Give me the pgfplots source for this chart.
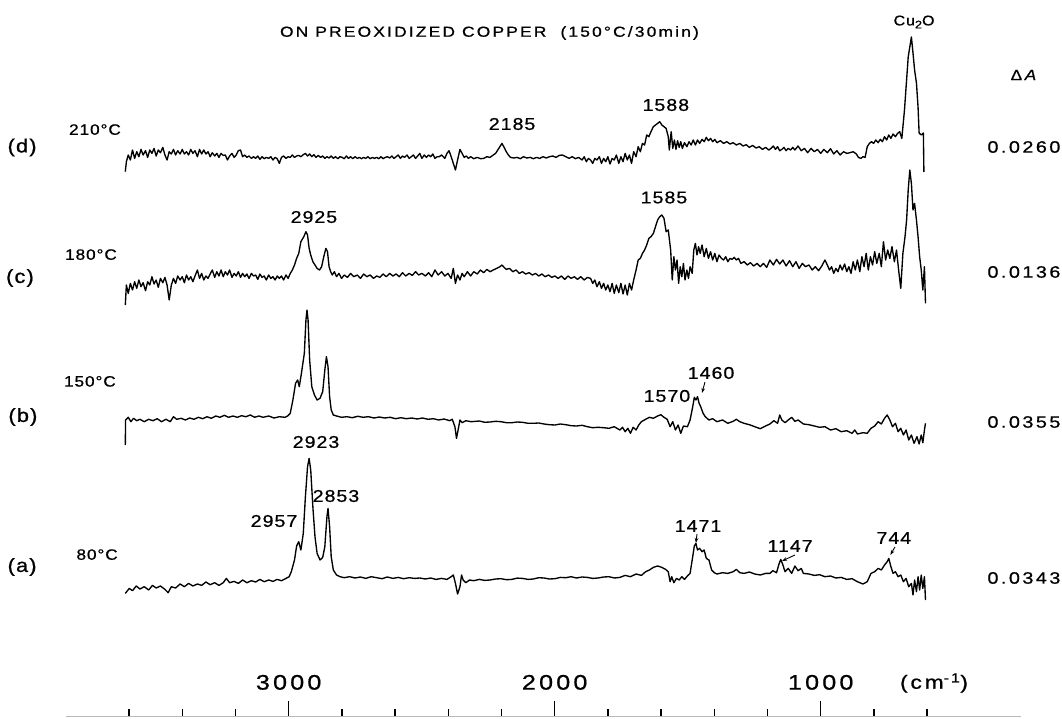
\documentclass[border=0pt]{standalone}
\usepackage{fontspec}
\setmainfont{Liberation Sans}[FakeStretch=1.15, LetterSpace=6, FakeBold=0.8]
\newfontfamily\wide{Liberation Sans}[FakeStretch=1.2, LetterSpace=15, FakeBold=0.8]
\usepackage{pgfplots}
\pgfplotsset{compat=1.18}
\usepackage{pgfplotstable}
\usetikzlibrary{arrows.meta}
\tikzset{
  trace/.style={black, line width=1.35pt, line join=round},
  pk/.style={font=\fontsize{17}{17}\selectfont},
  tl/.style={font=\fontsize{15}{15}\selectfont},
  lt/.style={font=\fontsize{19}{19}\selectfont},
  rv/.style={font=\wide\fontsize{16.5}{16.5}\selectfont},
  ar/.style={-{Stealth[length=5pt,width=3.5pt]}, line width=0.9pt},
}

% trace (a) 80 C : wavenumber / deflection
\pgfplotstableread{
nu dA
3614 -6.7
3599 -1.7
3587 -4
3573 0.7
3559 -2.3
3543 0
3526 -3.3
3512 1.3
3498 -1.3
3482 0.7
3465 -2.7
3453 -6
3441 0
3425 -1.3
3408 2.7
3392 0
3376 3.3
3360 0.7
3343 2.7
3327 1.3
3311 4.7
3295 2
3278 4
3262 1.3
3246 4
3234 8.3
3222 4
3205 5.3
3189 3.3
3173 6.7
3157 4
3140 6
3124 4.7
3108 7.3
3092 5
3075 6.7
3059 5.3
3043 7.3
3027 6
3010 8.3
2998 10
2990 15
2978 26.7
2970 40.7
2962 45
2954 36.7
2945 53.3
2937 90
2929 120
2923 128.3
2917 116.7
2909 80
2901 50
2893 33.3
2882 26.7
2872 29.3
2864 40
2856 70
2852 78.3
2846 60
2840 30
2832 16.7
2820 11.7
2807 10
2791 9
2771 10
2750 8.7
2730 9.7
2710 8.3
2690 10
2669 9
2649 8
2629 9.7
2608 8.3
2588 9.3
2568 8
2547 9
2527 8.3
2507 8.7
2486 7.7
2466 8.7
2446 7.3
2425 8.3
2405 7.3
2389 10
2381 11.7
2373 3.3
2365 -7.3
2356 0
2350 11.7
2344 6.7
2334 4
2320 6.7
2304 6
2283 7.3
2263 6.3
2243 6.7
2222 7.7
2202 8
2181 7
2161 7.3
2141 8.6
2121 8.3
2100 7.3
2080 7.7
2060 9
2040 8.7
2020 7.7
1999 8
1979 9.3
1958 9
1938 10
1918 8.7
1897 9.7
1877 9.3
1857 8.3
1837 8.7
1816 9.7
1796 10
1775 8.7
1755 9.3
1735 11.3
1715 10
1694 12.7
1674 11.3
1658 15
1644 16.7
1629 19.3
1613 20.7
1597 19.3
1583 17.3
1573 15
1566 5
1560 10
1552 4
1542 8.3
1532 6.7
1522 10
1512 7.3
1501 10.7
1491 13.3
1483 26.7
1475 40.7
1469 43.3
1463 36.7
1455 38.3
1446 35
1438 36.7
1430 28.3
1420 26.7
1410 16.7
1400 14
1390 12.7
1369 14
1349 13.3
1329 15
1317 17.3
1304 14
1288 13.3
1268 14.7
1248 12.7
1227 11.7
1207 13.3
1191 13.3
1180 16
1166 14
1156 23.3
1150 27.3
1142 21.7
1134 15
1122 18.3
1109 13.3
1097 20.7
1085 16
1073 18.3
1065 13.3
1044 12.7
1024 11.3
1004 12
984 10
963 10.7
943 8.7
923 9.3
902 7.3
882 8
862 5
841 2.7
825 5
811 13.3
797 15
784 18.3
772 16.7
760 21.7
750 25
744 28.3
736 20
728 13.3
719 15
709 10
699 11.7
689 5
679 8.3
669 0
659 3.3
653 -8.3
647 6.7
640 -5
634 10
628 -3.3
622 11.7
616 -1.7
610 10
606 -13.3
}\tracea

% trace (b) 150 C
\pgfplotstableread{
nu dA
3614 -25
3613 0
3603 2.7
3593 -1.7
3583 1.7
3571 -0.7
3559 0.7
3543 -1.7
3526 0.7
3510 -0.7
3494 1.3
3478 -1.7
3461 0.7
3445 -1.7
3433 3.3
3421 0.7
3404 1.7
3388 0
3372 2
3356 0.7
3339 2.7
3323 1.3
3307 3.3
3291 1.7
3274 4
3258 2.7
3242 4.7
3226 2.7
3209 4
3193 2.7
3177 4.3
3161 3.3
3144 5
3128 2.7
3112 4
3096 2.7
3075 4
3055 2
3035 3.3
3014 2.7
3004 4
2994 6.7
2984 20
2974 36.7
2966 40
2960 33.3
2952 46.7
2941 66.7
2935 100
2931 110
2927 100
2921 60
2913 33.3
2903 25
2893 20
2882 21.7
2872 28.3
2864 50
2858 63.3
2852 53.3
2846 23.3
2840 10
2832 5
2820 4
2801 2.7
2781 3.3
2761 2.3
2740 3.7
2720 2.7
2700 3.3
2679 2
2659 3
2639 2
2618 2.7
2598 1.3
2578 2.3
2558 1.3
2537 2
2517 1
2497 2
2476 0.7
2456 1.3
2436 0
2415 1
2395 -0.7
2385 0.7
2375 -6.7
2369 -18.3
2363 -10
2356 0
2348 -2.7
2334 -0.7
2314 -1.7
2283 -1
2263 -2.3
2243 -2
2222 -1.3
2202 -1.7
2181 -2.7
2161 -2.7
2141 -2
2121 -2.3
2100 -3.3
2080 -3.3
2060 -3
2040 -4
2020 -4.7
1999 -5
1979 -4
1958 -4.7
1938 -5.7
1918 -6
1897 -5.3
1877 -6.7
1857 -7.7
1837 -7.3
1816 -7.7
1796 -8.3
1776 -6.7
1755 -10
1745 -7.3
1735 -11.7
1725 -8.3
1715 -13.3
1705 -7.3
1694 -10
1684 -5
1674 -1.7
1658 0.7
1644 2.7
1629 1.7
1613 4
1601 5.3
1589 2.7
1577 0.7
1566 -6.7
1556 -1.7
1546 -10
1536 -5
1526 -13.3
1516 -6
1501 -6.7
1491 0
1481 13.3
1475 22.7
1469 20
1463 23.3
1457 16.7
1451 13.3
1442 6.7
1434 3.3
1420 0
1406 1.3
1390 -1.7
1369 0
1349 -3.3
1329 -1.3
1317 0.7
1304 -1.7
1288 -3.3
1268 -4.7
1248 -6.7
1227 -8.7
1207 -6
1191 -4
1176 -0.7
1162 -3.3
1154 5
1146 0
1134 -2.7
1122 0
1109 2.7
1097 -1.3
1085 0
1065 -4
1044 -4.7
1024 -6
1004 -7.3
984 -6.7
963 -10
943 -8.7
923 -11.7
902 -10.7
882 -13.3
872 -10
862 -14
841 -12.7
825 -13.3
811 -8.3
797 -6
784 -1.7
772 -4
760 1.7
750 5
740 0
730 -6.7
719 -3.3
709 -11.7
699 -8.3
689 -15
679 -10
669 -20
659 -15
649 -23.3
638 -16.7
630 -24
622 -15
616 -22.7
610 -10
606 -3.3
}\traceb

% trace (c) 180 C
\pgfplotstableread{
nu dA
3614 -18.3
3610 1.7
3603 -6.7
3595 3.3
3587 -3.3
3579 5
3571 -1.7
3563 6.7
3555 0
3547 4
3538 -4
3530 5
3522 1.7
3514 10
3506 2.7
3498 6.7
3490 -0.7
3482 8.3
3473 4
3465 9.3
3457 1.7
3449 -13.3
3441 1.7
3433 8.3
3425 3.3
3417 10.7
3408 6.7
3400 10
3392 4
3384 11.7
3376 6.7
3368 10
3360 5
3352 10.7
3343 16.7
3335 8.3
3327 13.3
3319 6.7
3311 10.7
3303 8.3
3295 12.7
3287 16.7
3278 9.3
3270 15
3262 10.7
3254 16.7
3246 10
3238 15
3230 11.7
3222 16.7
3213 9.3
3205 13.3
3197 10.7
3189 15
3181 9.3
3173 13.3
3165 10
3157 12.7
3149 8.3
3140 13.3
3132 10.7
3124 11.7
3116 7.3
3108 12.7
3100 9.3
3092 10.7
3084 6.7
3075 11.7
3067 8.3
3059 10
3051 6.7
3043 10.7
3035 8.3
3027 10.7
3019 6.7
3010 11.7
3002 8.3
2994 13.3
2986 16.7
2978 21.7
2970 28.3
2962 33.3
2954 45
2943 50
2935 55
2929 51.7
2923 38.3
2917 31.7
2909 25
2901 21.7
2893 18.3
2884 16.7
2876 20
2868 30
2860 38.3
2854 35
2848 20
2842 15
2836 11.7
2828 15
2820 10
2811 13.3
2801 8.3
2791 11.7
2779 9.3
2767 13.3
2755 10
2742 11.7
2730 8.3
2718 12.7
2706 10
2694 11.7
2681 8.3
2669 10.7
2657 9.3
2645 12.7
2633 10
2620 13.3
2608 10.7
2596 12.7
2584 10
2572 14
2560 10.7
2547 13.3
2535 11.3
2523 15
2511 11.7
2499 13.3
2486 10.7
2474 14
2462 10
2450 16.7
2438 11.7
2425 15
2413 10.7
2401 13.3
2389 8.3
2381 18.3
2373 3.3
2365 11.7
2356 6.7
2348 13.3
2340 10
2328 15
2316 10.7
2304 15
2291 12.7
2279 16.7
2267 14
2255 17.3
2243 15
2231 16.7
2218 18.3
2206 20
2198 21.7
2190 19.3
2182 17.3
2170 18.3
2157 15
2145 16.7
2133 13.3
2121 15
2109 12.7
2096 14
2084 11.7
2072 13.3
2060 10.7
2048 12.7
2036 10
2023 11.7
2011 9.3
1999 10.7
1987 8.3
1975 10.7
1962 7.3
1950 10.7
1938 8.3
1926 10
1914 7.3
1902 10
1889 6.7
1877 9.3
1865 8.3
1857 3.3
1849 6.7
1841 0
1832 5
1824 -1.7
1816 3.3
1808 -3.3
1800 1.7
1792 -5
1784 3.3
1776 -6.7
1768 1.7
1759 -6
1751 3.3
1743 -7.3
1735 1.7
1727 -8.3
1719 3.3
1711 -3.3
1703 6.7
1694 16.7
1686 26.7
1678 28.3
1670 33.3
1662 36.7
1654 41.7
1646 48.3
1638 50
1629 53.3
1621 60
1613 66.7
1605 70
1597 71.7
1589 68.3
1581 55
1573 56.7
1564 36.7
1558 6.7
1552 30
1546 16.7
1540 26.7
1534 3.3
1528 20
1522 10
1516 23.3
1510 6.7
1503 16.7
1497 8.3
1491 20
1483 13.3
1477 36.7
1471 43.3
1465 31.7
1459 40
1453 33.3
1446 41.7
1438 30
1430 38.3
1422 28.3
1414 35
1406 26.7
1398 33.3
1390 25
1382 31.7
1373 28.3
1365 26.7
1357 30
1349 25
1341 28.3
1333 27.3
1325 29.3
1317 26.7
1309 28.3
1300 23.3
1288 25
1276 21.7
1264 24
1252 20.7
1239 23.3
1227 20
1215 23.3
1203 19.3
1191 26.7
1178 21.7
1166 27.3
1154 22.7
1142 26.7
1130 20.7
1117 26
1105 20
1093 25
1081 18.3
1069 23.3
1057 20
1044 21.7
1032 16.7
1020 20
1008 16
996 20.7
984 26.7
975 21.7
967 16.7
959 20
951 13.3
943 18.3
935 15
927 21.7
919 16.7
910 22.7
902 15
894 20
886 13.3
878 25
870 16.7
862 26.7
853 15
845 30
837 20
829 33.3
821 16.7
813 30
805 21.7
797 35
789 23.3
780 33.3
772 20
764 45
756 26.7
748 36.7
740 28.3
732 40
723 25
715 36.7
707 16.7
699 -1.7
691 33.3
683 50
677 66.7
671 96.7
665 116.7
659 103.3
653 76.7
647 83.3
640 66.7
634 50
628 30
622 16.7
616 -3.3
610 20
606 -16.7
}\tracec

% trace (d) 210 C
\pgfplotstableread{
nu dA
3614 -15
3610 -5
3603 1.7
3595 -3.3
3587 6.7
3579 -1.7
3571 5
3563 0
3555 7.3
3547 1.7
3538 6
3530 -0.7
3522 6.7
3514 3.3
3506 8.3
3498 0.7
3490 6.7
3482 4
3473 9.3
3465 1.7
3457 -3.3
3449 5
3441 2.7
3433 7.3
3425 1.7
3417 6
3408 2.7
3400 7.3
3392 2.7
3384 5
3376 1.7
3368 7.3
3360 3.3
3352 6
3343 0
3335 7.3
3327 2.7
3319 6.7
3311 2.7
3303 5
3295 0
3287 4
3278 0.7
3270 3.3
3262 -0.7
3254 3.3
3246 1.3
3238 1.7
3230 -3.3
3222 0.7
3213 3.3
3205 -0.7
3197 1.7
3189 6
3181 6.7
3173 0
3165 1.7
3157 -0.7
3149 0.7
3140 -1.7
3132 0
3124 -1.7
3116 0.7
3108 -2.7
3100 0
3092 -2
3084 -0.7
3075 -1.7
3067 0
3059 -3.3
3051 -0.7
3043 -2
3035 -6.7
3027 -0.7
3019 0.7
3010 -1.7
3002 0
2994 -0.7
2986 1.7
2978 -0.7
2970 0.7
2962 1.3
2954 0
2945 2
2937 3.3
2929 0.7
2921 2.7
2913 0
2905 2
2897 -0.7
2889 1.3
2880 -0.7
2872 0.7
2864 -1.7
2856 0
2848 -1.3
2840 0.7
2832 -1.7
2824 0
2815 -2
2807 0
2799 -0.7
2791 -2
2783 0.7
2775 -1.7
2767 0
2759 -2
2750 0
2742 -1.7
2734 -0.7
2726 -2
2718 -0.7
2710 -1.7
2702 0
2694 -2
2685 -0.7
2677 -1.7
2669 -0.7
2661 -2
2653 0
2645 -2
2637 -0.7
2629 0
2620 -1.3
2612 0.7
2604 -1.7
2596 0
2588 1.7
2580 -1.7
2572 0.7
2564 -0.7
2555 1.7
2547 -1.7
2539 0
2531 1.7
2523 -1.7
2515 0.7
2507 3.3
2499 -1.7
2490 1.7
2482 -0.7
2474 1.7
2466 0
2458 2.7
2450 -1.7
2442 0
2434 0
2425 1.7
2413 -1.7
2405 3.3
2397 6
2389 0
2381 -6.7
2373 -13.3
2365 -3.3
2356 7.3
2348 3.3
2340 -0.7
2332 0.7
2324 -1.7
2316 0
2304 -2
2291 -0.7
2279 -2
2267 -1.7
2255 0
2243 -0.7
2231 1.7
2222 3.3
2214 6.7
2206 10
2198 13.3
2190 9.3
2182 5
2174 1.7
2166 -0.7
2153 -1.3
2141 -0.7
2129 -2
2117 0
2105 -1.3
2092 -0.7
2080 -2
2068 -0.7
2056 -1.7
2044 0
2032 -1.3
2019 0
2007 0.7
1995 -0.7
1983 1.3
1971 1.7
1958 0
1946 -1.7
1934 0
1922 -2
1910 -0.7
1897 -3.3
1889 0
1881 -5
1873 -1.7
1865 -3.3
1857 -6.7
1849 -1.7
1841 -3.3
1832 0
1824 -6.7
1816 -1.7
1808 -5
1800 0
1792 -7.3
1784 -1.7
1776 -3.3
1768 1.7
1759 -6.7
1751 0
1743 -5
1735 3.3
1727 -3.3
1719 1.7
1711 -6.7
1703 5
1694 0
1686 10
1678 5
1670 13.3
1662 11.7
1654 21.7
1646 20
1638 25
1629 30
1621 31.7
1613 33.3
1605 35
1597 31.7
1589 30
1581 28.3
1573 20
1569 6.7
1562 25
1556 8.3
1550 16.7
1544 7.3
1538 16
1532 9.3
1526 15
1520 8.3
1512 14
1503 10
1495 15
1487 11.7
1479 16.7
1471 11.7
1463 16.7
1455 13.3
1446 17.3
1438 15
1430 19.3
1422 16
1414 18.3
1406 15
1398 17.3
1390 14
1377 16
1365 13.3
1353 15
1341 12.7
1329 14
1317 11.7
1304 13.3
1292 10.7
1280 12
1268 9.3
1256 11.3
1243 8.7
1231 10
1219 7.3
1207 9.3
1195 6.7
1187 8.3
1178 10.7
1170 7.3
1162 10
1154 6
1146 7.3
1138 9.3
1130 6
1122 8.3
1113 6.7
1105 9.3
1097 6.7
1085 10.7
1073 6
1061 8.3
1049 4
1036 8.3
1024 5
1012 7.3
1000 3.3
988 7.3
975 4
963 8
951 2.7
939 6
927 1.7
914 5
902 3.3
890 4
878 5
866 2.7
858 -0.7
849 -1.7
841 0
833 -0.7
825 10
817 13.3
809 15
801 13.3
793 16.7
784 14
776 17.3
768 15
760 20
752 16.7
744 21.7
736 18.3
728 22.7
719 20
711 23.3
703 25
695 18.3
685 46.7
671 99.7
659 119.7
653 103.7
647 86.7
640 73.7
634 49.7
630 23.7
622 21.7
614 23.7
612 -15.3
}\traced

\begin{document}
\begin{tikzpicture}
\useasboundingbox (0,0) rectangle (1062pt,718pt);
\begin{axis}[
  at={(66pt,2pt)}, anchor=south west,
  scale only axis, width=955pt, height=716pt,
  xmin=247, xmax=3837, ymin=2, ymax=718,
  x dir=reverse,
  axis x line*=bottom, axis y line=none,
  x axis line style={gray!55, line width=1pt},
  xtick={1000,2000,3000}, xticklabels={1000,2000,3000},
  minor xtick={600,800,1200,1400,1600,1800,2200,2400,2600,2800,3200,3400,3600},
  tick align=inside,
  major tick length=15pt, minor tick length=7pt,
  major tick style={black, line width=1.3pt},
  minor tick style={black, line width=1.3pt},
  xticklabel style={anchor=south, inner sep=0pt, yshift=26pt, font=\wide\fontsize{21}{21}\selectfont},
  clip=false,
]
\addplot[trace] table[x=nu, y expr=\thisrow{dA}+131.3] {\tracea};
\addplot[trace] table[x=nu, y expr=\thisrow{dA}+298] {\traceb};
\addplot[trace] table[x=nu, y expr=\thisrow{dA}+431.3] {\tracec};
\addplot[trace] table[x=nu, y expr=\thisrow{dA}+561.3] {\traced};

% title and header labels
\node[font=\wide\fontsize{14.5}{14.5}\selectfont] at (axis cs:2245,685) {ON PREOXIDIZED COPPER\ \ (150°C/30min)};
\node[font=\fontsize{14}{14}\selectfont] at (axis cs:649,696) {Cu\raisebox{-3pt}{\fontsize{11}{11}\selectfont 2}O};
\node[font=\fontsize{15}{15}\selectfont] at (axis cs:236,643) {Δ\,\textit{A}};

% right-hand scale values
\node[rv] at (axis cs:236,571) {0.0260};
\node[rv] at (axis cs:236,446) {0.0136};
\node[rv] at (axis cs:236,296) {0.0355};
\node[rv] at (axis cs:236,140) {0.0343};

% trace names and temperatures
\node[lt] at (axis cs:4002,570.5) {(d)};
\node[tl] at (axis cs:3728,588.4) {210°C};
\node[lt] at (axis cs:4010,440) {(c)};
\node[tl] at (axis cs:3743,463.4) {180°C};
\node[lt] at (axis cs:3999,301) {(b)};
\node[tl] at (axis cs:3747,336.6) {150°C};
\node[lt] at (axis cs:4002,151) {(a)};
\node[tl] at (axis cs:3720,163.4) {80°C};

% peak labels
\node[pk] at (axis cs:2160,594) {2185};
\node[pk] at (axis cs:1582,613) {1588};
\node[pk] at (axis cs:2905,501) {2925};
\node[pk] at (axis cs:1589,520.5) {1585};
\node[pk] at (axis cs:2897,276) {2923};
\node[pk] at (axis cs:2822,222) {2853};
\node[pk] at (axis cs:3055,197) {2957};
\node[pk] at (axis cs:1578,322) {1570};
\node[pk] at (axis cs:1412,345) {1460};
\node[pk] at (axis cs:1461,192) {1471};
\node[pk] at (axis cs:1115,172) {1147};
\node[pk] at (axis cs:725,180) {744};
\draw[ar] (axis cs:1435,336) -- (axis cs:1446,325);
\draw[ar] (axis cs:1465,184) -- (axis cs:1469,175);
\draw[ar] (axis cs:1097,163) -- (axis cs:1145,157);
\draw[ar] (axis cs:721,171) -- (axis cs:738,163);

% unit label of the wavenumber scale
\node[font=\wide\fontsize{19}{19}\selectfont] at (axis cs:574,35) {(cm\textsuperscript{-1})};
\end{axis}
\end{tikzpicture}
\end{document}
